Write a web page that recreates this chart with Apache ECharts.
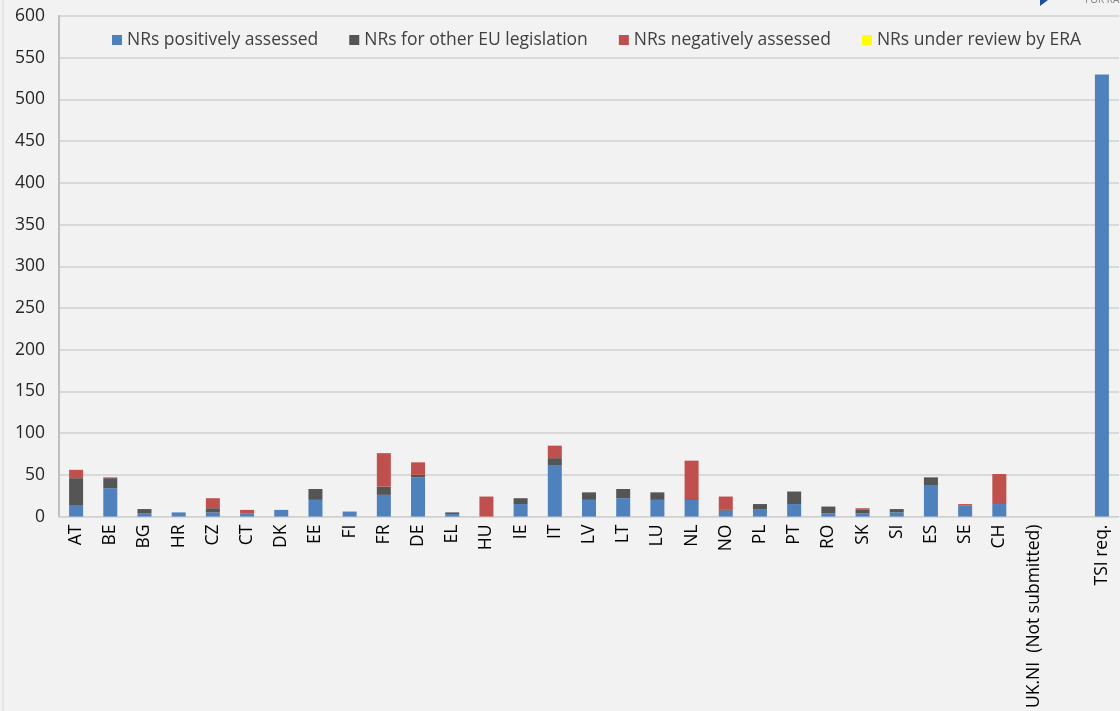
<!DOCTYPE html>
<html>
<head>
<meta charset="utf-8">
<script src="https://cdn.jsdelivr.net/npm/echarts@6/dist/echarts.min.js"></script>
<style>
html,body{margin:0;padding:0;background:#f2f2f2;}
#c{width:1120px;height:711px;}
</style>
</head>
<body>
<div id="c"></div>
<script>
const categories = ['AT','BE','BG','HR','CZ','CT','DK','EE','FI','FR','DE','EL','HU','IE','IT','LV','LT','LU','NL','NO','PL','PT','RO','SK','SI','ES','SE','CH','UK.NI  (Not submitted)','','TSI req.'];
const positive = [13,34,4,5,5,4,8,20,6,26,47,3,0,15,61,20,22,20,20,7,9,15,4,4,5,37,13,15,0,0,530];
const otherEU  = [33,12,5,0,5,0,0,13,0,10,3,2,0,7,9,9,11,9,1,1,6,15,8,4,4,10,0,1,0,0,0];
const negative = [10,1,0,0,12,4,0,0,0,40,15,0,24,0,15,0,0,0,46,16,0,0,0,2,0,0,2,35,0,0,0];
const underReview = [0,0,0,0,0,0,0,0,0,0,0,0,0,0,0,0,0,0,0,0,0,0,0,0,0,0,0,0,0,0,0];
const yTicks = {min:0, max:600, interval:50};

const chart = echarts.init(document.getElementById('c'));
const font = "'Open Sans', 'Noto Sans', sans-serif";
const mk = (name, data, color) => ({
  name, type:'bar', stack:'s', data, barWidth:14,
  itemStyle:{color},
  emphasis:{disabled:true}
});
chart.setOption({
  backgroundColor:'#f2f2f2',
  animation:false,
  textStyle:{fontFamily:font},
  legend:{
    top:26, left:107, itemWidth:10, itemHeight:10, itemGap:31,
    icon:'rect',
    textStyle:{fontSize:17.5, color:'#404040', fontFamily:font},
    data:['NRs positively assessed','NRs for other EU legislation','NRs negatively assessed','NRs under review by ERA']
  },
  grid:{left:59, right:1, top:16, bottom:193, containLabel:false},
  xAxis:{
    type:'category', data:categories,
    axisLine:{show:true, lineStyle:{color:'#d0d0d0', width:1}},
    axisTick:{show:false},
    axisLabel:{rotate:90, interval:0, fontSize:17.5, color:'#000', fontFamily:font, margin:8}
  },
  yAxis:{
    type:'value', min:yTicks.min, max:yTicks.max, interval:yTicks.interval,
    axisLine:{show:true, lineStyle:{color:'#bfbfbf', width:2}},
    axisTick:{show:false},
    splitLine:{lineStyle:{color:'#d9d9d9', width:2}},
    axisLabel:{fontSize:17.5, color:'#262626', fontFamily:font, margin:14}
  },
  graphic:[
    {type:'line', shape:{x1:3,y1:0,x2:3,y2:711}, style:{stroke:'#d9d9d9', lineWidth:1}},
    {type:'polygon', shape:{points:[[1040,0],[1048,0],[1040,6]]}, style:{fill:'#1f4e9c'}},
    {type:'text', left:1085, top:-5, style:{text:'FOR RA', fill:'#7f7f7f', fontSize:10, fontFamily:font}}
  ],
  series:[
    mk('NRs positively assessed', positive, '#4f81bd'),
    mk('NRs for other EU legislation', otherEU, '#555555'),
    mk('NRs negatively assessed', negative, '#c0504d'),
    mk('NRs under review by ERA', underReview, '#ffff00')
  ]
});
</script>
</body>
</html>
